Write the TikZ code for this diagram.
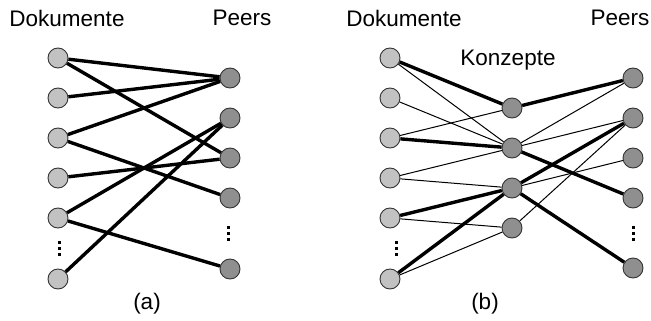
\documentclass[tikz,border=0pt]{standalone}
\usepackage{fontspec}
\setmainfont{Liberation Sans}
\begin{document}
\begin{tikzpicture}[x=1pt,y=-1pt,
  doc/.style={circle,draw=black!80,line width=0.9pt,fill=black!24,minimum size=20pt,inner sep=0pt},
  peer/.style={circle,draw=black!80,line width=0.9pt,fill=black!44,minimum size=20pt,inner sep=0pt},
  strong/.style={line width=3.4pt},
  weak/.style={line width=1pt},
  lbl/.style={font=\fontsize{22.5}{26}\selectfont,inner sep=0pt},
  dot/.style={fill=black,minimum size=3pt,inner sep=0pt}]
\useasboundingbox (0,0) rectangle (651,321);

% ---------- (a) documents linked directly to peers ----------
\node[lbl] (tDa) at (67,18) {Dokumente};
\node[lbl] (tPa) at (242,18) {Peers};
\node[lbl] (capa) at (147,304) {(a)};

\foreach \i/\y in {1/58,2/98,3/138,4/178,5/218,6/279}
  \node[doc] (ad\i) at (58,\y) {};
\foreach \i/\y in {1/78,2/118,3/158,4/198,5/269}
  \node[peer] (ap\i) at (230,\y) {};

\foreach \a/\b in {1/1,1/3,2/1,3/1,3/4,4/3,5/2,5/5,6/2}
  \draw[strong] (ad\a) -- (ap\b);
\foreach \i/\y in {1/242,2/248,3/254}{
  \node[dot] (adot\i) at (59,\y) {};
  \node[dot] (apot\i) at (228,\y-15) {};
}

% ---------- (b) documents linked to peers via concepts ----------
\node[lbl] (tDb) at (404,18) {Dokumente};
\node[lbl] (tPb) at (620,18) {Peers};
\node[lbl] (tK) at (508,60) {Konzepte};
\node[lbl] (capb) at (485,304) {(b)};

\foreach \i/\y in {1/58,2/98,3/138,4/178,5/218,6/279}
  \node[doc] (bd\i) at (390,\y) {};
\foreach \i/\y in {1/108,2/148,3/188,4/228}
  \node[peer] (bc\i) at (512,\y) {};
\foreach \i/\y in {1/78,2/118,3/158,4/198,5/268}
  \node[peer] (bp\i) at (633,\y) {};

% weak links
\foreach \a/\b in {1/2,2/2,3/1,4/2,4/3,5/4,6/4}
  \draw[weak] (bd\a) -- (bc\b);
\foreach \a/\b in {2/1,2/2,3/3,4/2}
  \draw[weak] (bc\a) -- (bp\b);
% strong links
\foreach \a/\b in {1/1,3/2,5/3,6/3}
  \draw[strong] (bd\a) -- (bc\b);
\foreach \a/\b in {1/1,2/4,3/2,3/5}
  \draw[strong] (bc\a) -- (bp\b);

\foreach \i/\y in {1/242,2/248,3/254}{
  \node[dot] (bdot\i) at (396,\y) {};
  \node[dot] (bpot\i) at (633,\y-15) {};
}
\end{tikzpicture}
\end{document}
